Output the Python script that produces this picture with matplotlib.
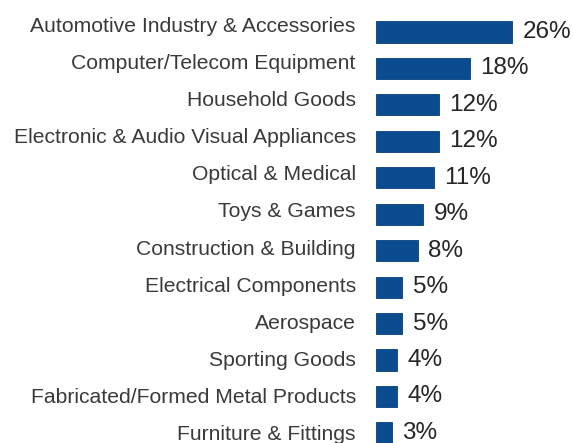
import matplotlib
matplotlib.use("Agg")
import matplotlib.pyplot as plt
from matplotlib.transforms import ScaledTranslation

categories = ["Automotive Industry & Accessories", "Computer/Telecom Equipment",
              "Household Goods", "Electronic & Audio Visual Appliances",
              "Optical & Medical", "Toys & Games", "Construction & Building",
              "Electrical Components", "Aerospace", "Sporting Goods",
              "Fabricated/Formed Metal Products", "Furniture & Fittings"]
shares = [26, 18, 12, 12, 11, 9, 8, 5, 5, 4, 4, 3]

plt.rcParams['font.family'] = ['Liberation Sans', 'DejaVu Sans']

W, H = 573, 443
fig = plt.figure(figsize=(W / 100, H / 100), dpi=100)
# axes placed in pixels: left edge of bars at x=376, row spacing ~36.45px
row = 36.45
top_px = 32 - row / 2
ax = fig.add_axes([376 / W, 0, 197 / W, (H - top_px) / H])
n = len(categories)
ax.set_ylim((H - top_px) / row - 0.5, -0.5)
ax.set_xlim(0, 197 / (136 / 26))

bars = ax.barh(range(n), shares, height=0.58, color="#0b4c91",
               edgecolor="#083d78", linewidth=0.6)
ax.bar_label(bars, labels=[f"{v}%" for v in shares], padding=7.5,
             fontsize=17.5, color="#262626")

ax.set_yticks(range(n))
ax.set_yticklabels(categories, fontsize=15.2, color="#3a3a3a")
ax.tick_params(axis="y", length=0, pad=14.5)
for i, lab in enumerate(ax.get_yticklabels()):
    dy = 8 * (1 - i / (n - 1)) / 100
    lab.set_transform(lab.get_transform() + ScaledTranslation(0, dy, fig.dpi_scale_trans))
ax.set_xticks([])
for s in ax.spines.values():
    s.set_visible(False)

fig.savefig("out.png", dpi=100)
